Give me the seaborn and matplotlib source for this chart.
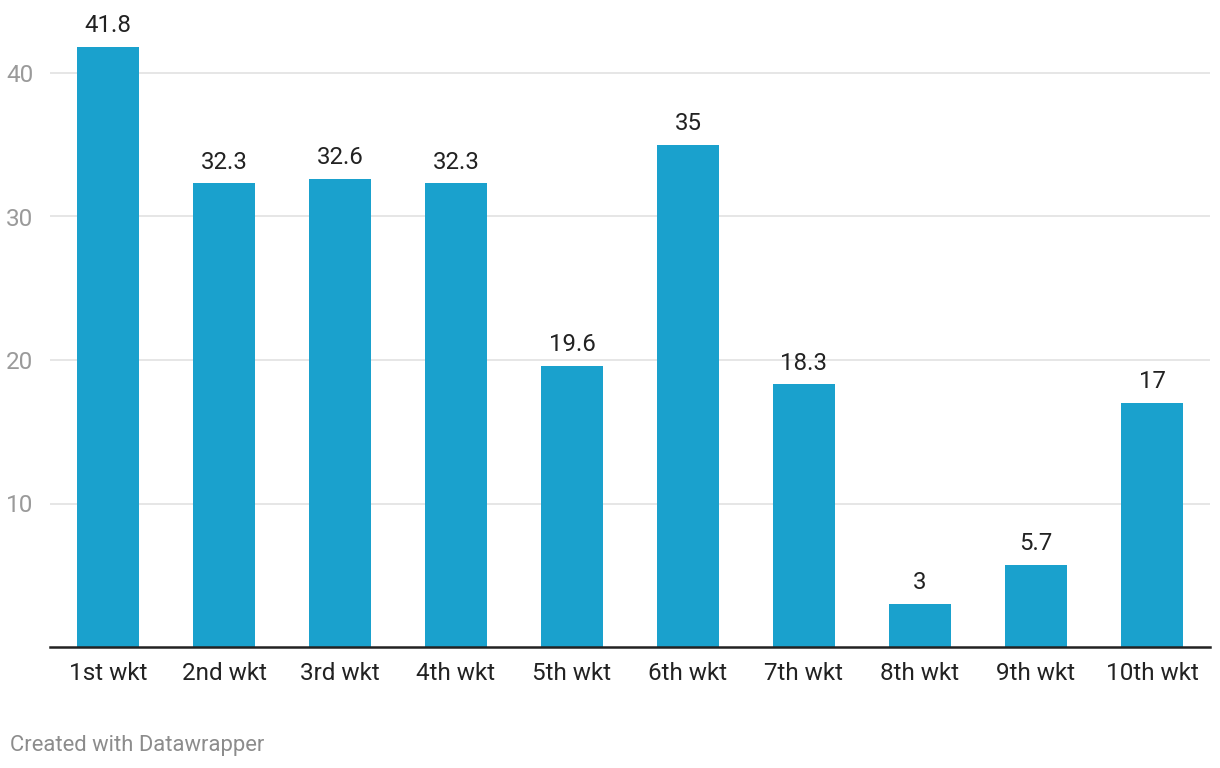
import matplotlib
matplotlib.use("Agg")
import matplotlib.pyplot as plt
import seaborn as sns
import pandas as pd

categories = ["1st wkt", "2nd wkt", "3rd wkt", "4th wkt", "5th wkt",
              "6th wkt", "7th wkt", "8th wkt", "9th wkt", "10th wkt"]
values = [41.8, 32.3, 32.6, 32.3, 19.6, 35, 18.3, 3, 5.7, 17]
value_labels = ["41.8", "32.3", "32.6", "32.3", "19.6", "35", "18.3", "3", "5.7", "17"]
y_ticks = [10, 20, 30, 40]

sns.set_theme(style="white")
plt.rcParams["font.family"] = ["Roboto", "DejaVu Sans"]

df = pd.DataFrame({"cat": categories, "val": values})

fig = plt.figure(figsize=(12.2, 7.68), dpi=100)
ax = fig.add_axes([50/1220, 121/768, 1160/1220, 645.75/768])

sns.barplot(data=df, x="cat", y="val", color="#1aa1cd", saturation=1,
            width=0.535, linewidth=0, edgecolor="none", ax=ax, zorder=3)

ax.set_xlim(-0.5, 9.5)
ax.set_ylim(0, 45)
ax.set_yticks(y_ticks)
ax.set_yticklabels([str(t) for t in y_ticks], color="#9a9a9a", fontsize=17.5)
ax.grid(axis="y", color="#e2e2e2", linewidth=1.2, zorder=0)
ax.set_axisbelow(True)
ax.tick_params(axis="y", length=0, pad=12)
ax.tick_params(axis="x", length=0, pad=11, labelsize=17.5, labelcolor="#222222")
ax.set_xlabel("")
ax.set_ylabel("")
for s in ["top", "right", "left"]:
    ax.spines[s].set_visible(False)
ax.spines["bottom"].set_color("#222222")
ax.spines["bottom"].set_linewidth(1.8)
ax.spines["bottom"].set_zorder(5)

for i, (v, lab) in enumerate(zip(values, value_labels)):
    ax.annotate(lab, (i, v), xytext=(0, 7), textcoords="offset points",
                ha="center", va="bottom", fontsize=17.3, color="#222222")

fig.text(10/1220, 1 - 745/768, "Created with Datawrapper", fontsize=15.8,
         color="#8c8c8c", ha="left", va="center")

fig.savefig("out.png", dpi=100)
